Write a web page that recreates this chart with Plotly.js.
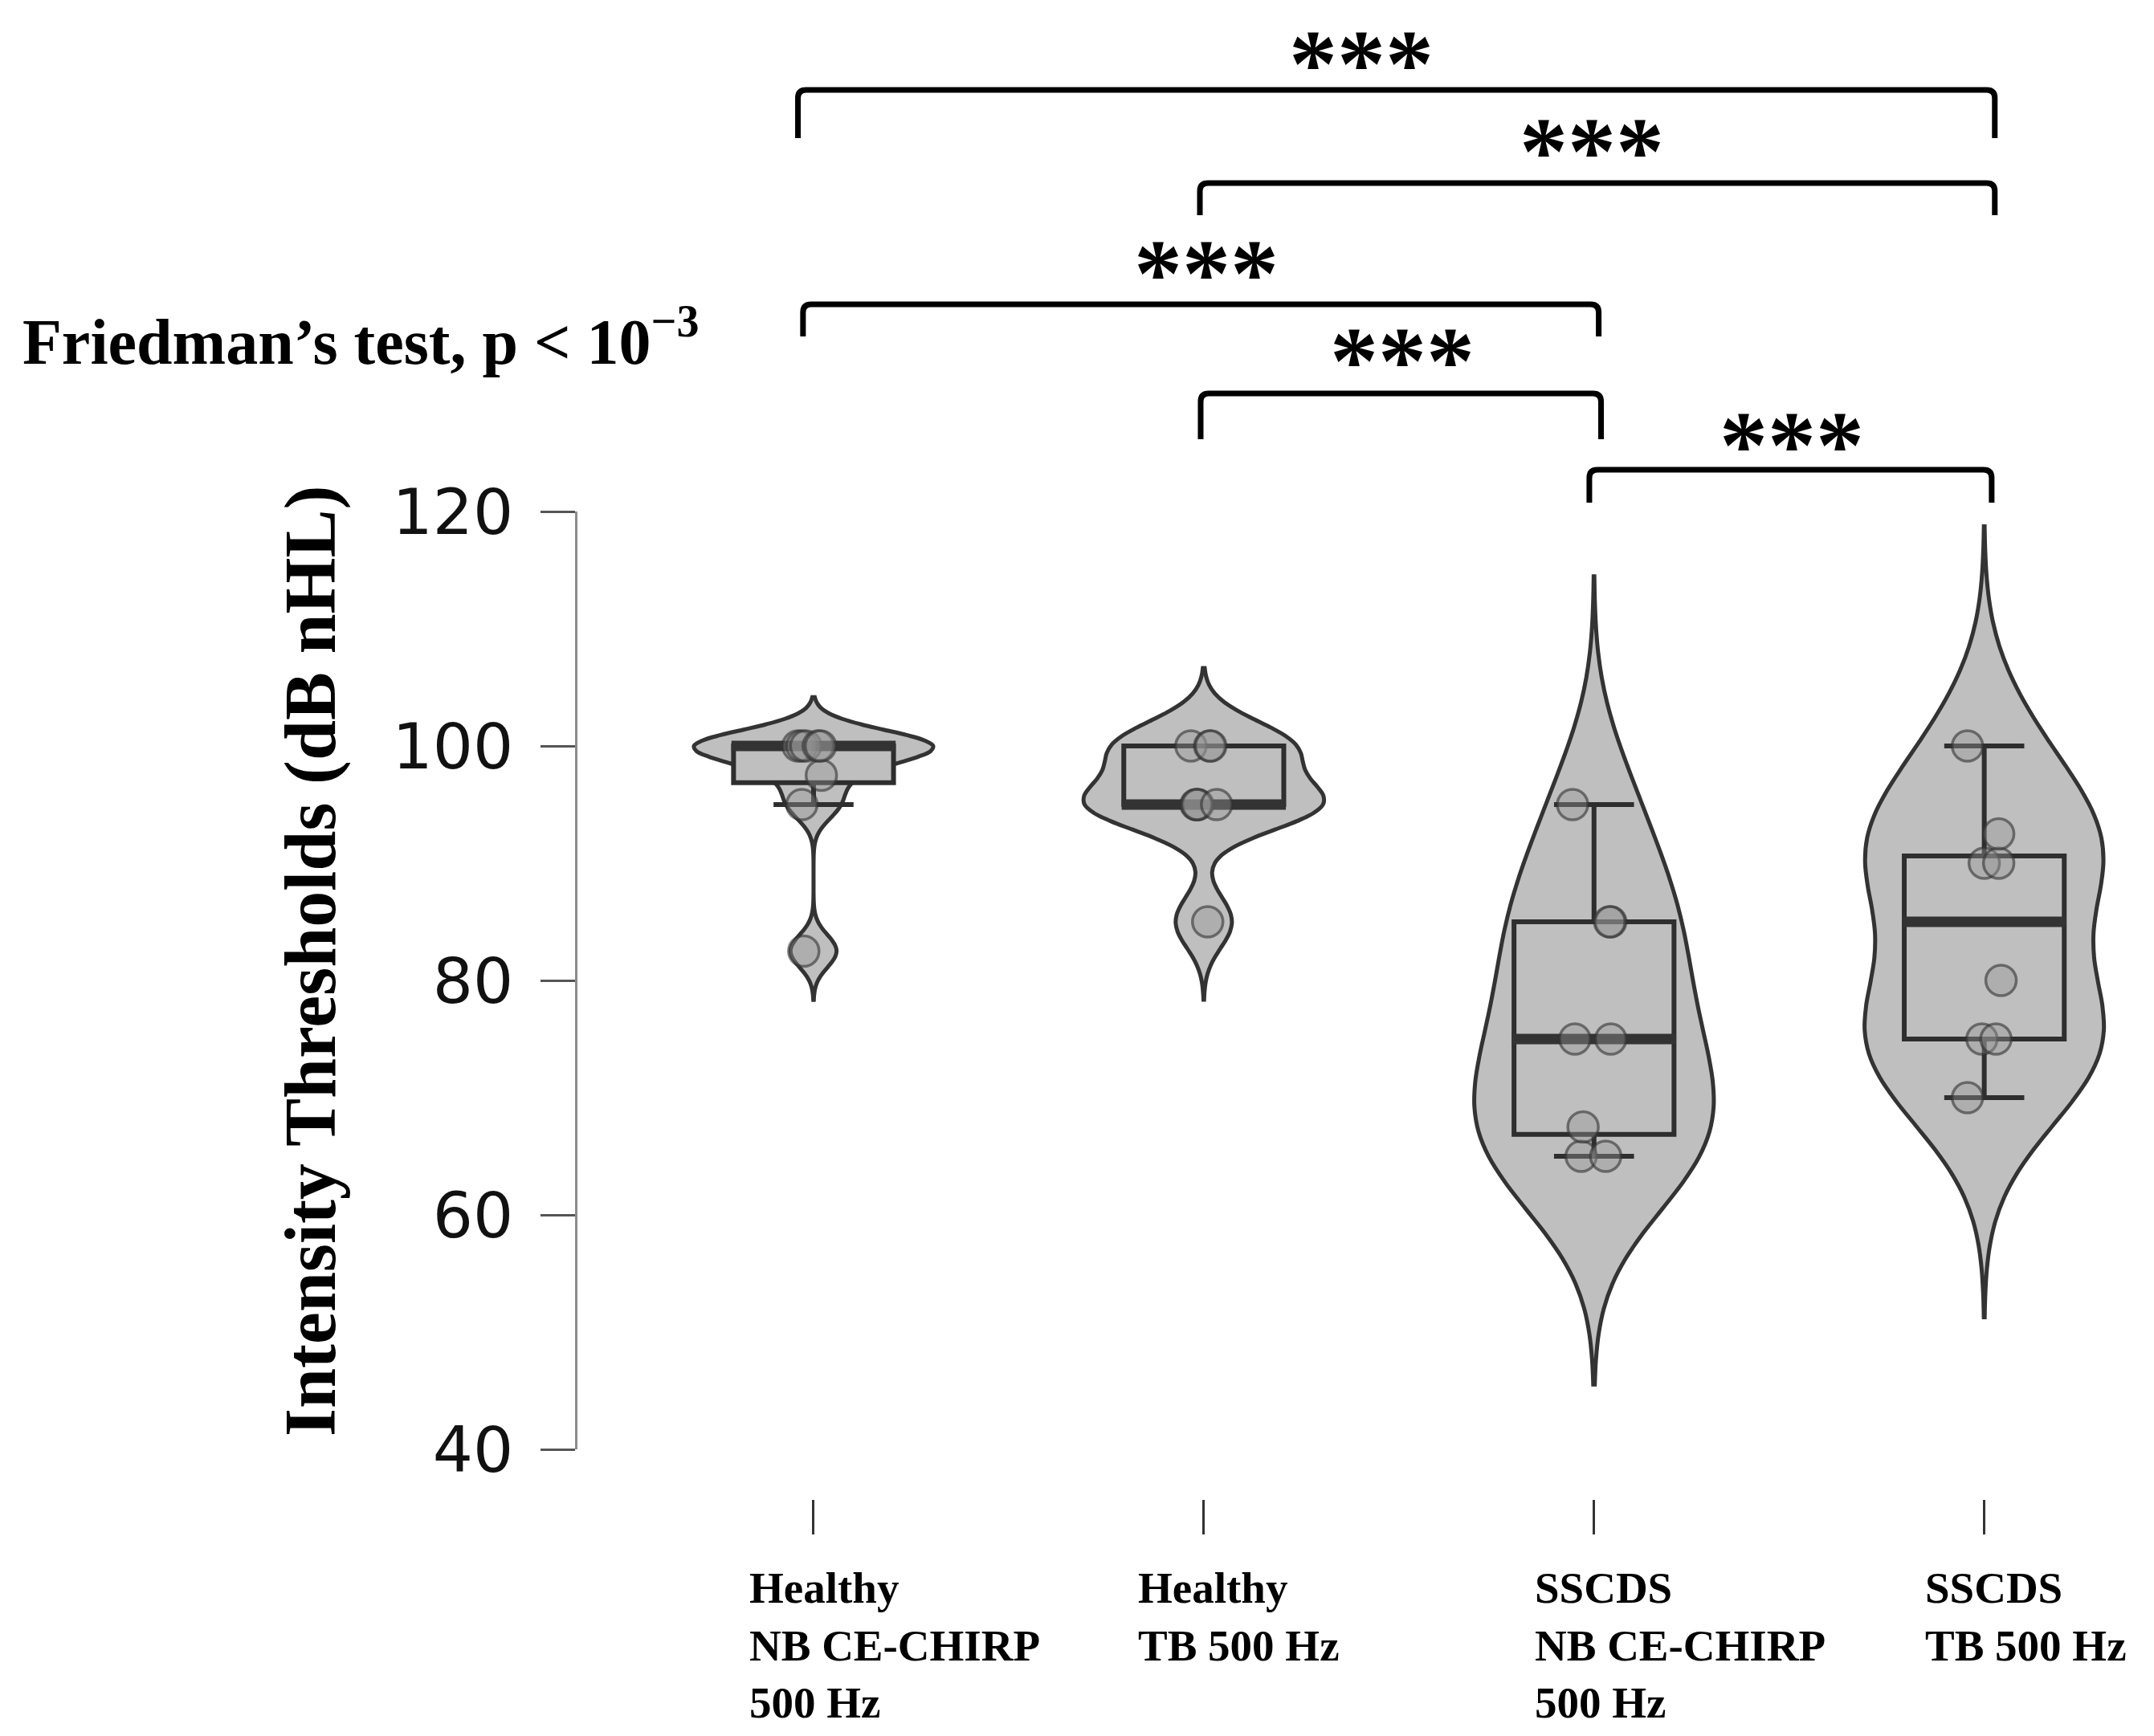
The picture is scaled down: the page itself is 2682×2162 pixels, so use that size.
<!DOCTYPE html>
<html>
<head>
<meta charset="utf-8">
<script src="https://cdn.plot.ly/plotly-3.0.1.min.js"></script>
<style>html,body{margin:0;padding:0;background:#fff}</style>
</head>
<body>
<div id="chart" style="width:2682px;height:2162px"></div>
<script>
// groups, left to right
var groupLabels = [
	'Healthy<br>NB CE-CHIRP<br>500 Hz',
	'Healthy<br>TB 500 Hz',
	'SSCDS<br>NB CE-CHIRP<br>500 Hz',
	'SSCDS<br>TB 500 Hz'
];

// thresholds in dB nHL
var healthyChirp = [82.5, 95, 97.5, 100, 100, 100, 100, 100];
var healthyTB    = [85, 95, 95, 95, 95, 100, 100, 100];
var sscdsChirp   = [65, 65, 67.5, 75, 75, 85, 85, 95];
var sscdsTB      = [70, 75, 75, 80, 90, 90, 92.5, 100];

// horizontal jitter of each point (category units)
var jitterHealthyChirp = [-0.025, -0.03, 0.02, -0.04, -0.03, -0.02, 0.012, 0.018];
var jitterHealthyTB    = [0.01, -0.02, -0.015, -0.018, 0.033, -0.033, 0.015, 0.018];
var jitterSscdsChirp   = [-0.033, 0.03, -0.028, -0.049, 0.043, 0.043, 0.04, -0.055];
var jitterSscdsTB      = [-0.043, -0.006, 0.03, 0.043, 0.0, 0.037, 0.037, -0.043];

var yTicks = [40, 60, 80, 100, 120];
var sigLabel = '***';

var groups = [healthyChirp, healthyTB, sscdsChirp, sscdsTB];
var jitters = [jitterHealthyChirp, jitterHealthyTB, jitterSscdsChirp, jitterSscdsTB];

// page geometry
var W = 2682, H = 2162;
var M = {l: 719, r: 17, t: 637, b: 295};
var plotW = W - M.l - M.r, plotH = H - M.t - M.b;
var xRange = [-0.605, 3.4];

function paperX(c) { return (c - xRange[0]) / (xRange[1] - xRange[0]); }
function paperY(py) { return (H - M.b - py) / plotH; }

// R-style helpers: quantile type 7, sd, bw.nrd0
function quantile(v, p) {
	var s = v.slice().sort(function(a, b) { return a - b; });
	var h = (s.length - 1) * p, lo = Math.floor(h);
	var hi = Math.min(lo + 1, s.length - 1);
	return s[lo] + (h - lo) * (s[hi] - s[lo]);
}
function sd(v) {
	var m = v.reduce(function(a, b) { return a + b; }, 0) / v.length;
	var ss = v.reduce(function(a, b) { return a + (b - m) * (b - m); }, 0);
	return Math.sqrt(ss / (v.length - 1));
}
function nrd0(v) {
	var iqr = quantile(v, 0.75) - quantile(v, 0.25);
	return 0.9 * Math.min(sd(v), iqr / 1.34) * Math.pow(v.length, -0.2);
}
// ggplot-like box stats
function boxStats(v) {
	var q1 = quantile(v, 0.25), q3 = quantile(v, 0.75), iqr = q3 - q1;
	var inside = v.filter(function(x) { return x >= q1 - 1.5 * iqr && x <= q3 + 1.5 * iqr; });
	return {
		q1: q1, med: quantile(v, 0.5), q3: q3,
		lo: Math.min.apply(null, inside), hi: Math.max.apply(null, inside)
	};
}

var data = [];

groups.forEach(function(vals, i) {
	var bw = nrd0(vals);
	data.push({
		type: 'violin', x0: i, y: vals,
		bandwidth: bw, spanmode: 'manual',
		span: [Math.min.apply(null, vals) - 3 * bw, Math.max.apply(null, vals) + 3 * bw],
		width: 0.613, scalemode: 'width', side: 'both',
		points: false, box: {visible: false}, meanline: {visible: false},
		fillcolor: '#bfbfbf', line: {color: '#333333', width: 5},
		hoverinfo: 'skip', showlegend: false
	});
});

var stats = groups.map(boxStats);
data.push({
	type: 'box',
	x: groups.map(function(v, i) { return i; }),
	q1: stats.map(function(s) { return s.q1; }),
	median: stats.map(function(s) { return s.med; }),
	q3: stats.map(function(s) { return s.q3; }),
	lowerfence: stats.map(function(s) { return s.lo; }),
	upperfence: stats.map(function(s) { return s.hi; }),
	width: 0.41, whiskerwidth: 0.5,
	fillcolor: '#bfbfbf', line: {color: '#2e2e2e', width: 6},
	hoverinfo: 'skip', showlegend: false
});

// thick median bars (line-ew length is 1.4 x size)
data.push({
	type: 'scatter', mode: 'markers',
	x: groups.map(function(v, i) { return i; }),
	y: stats.map(function(s) { return s.med; }),
	marker: {symbol: 'line-ew', size: 146, color: '#333333', line: {width: 13, color: '#333333'}},
	hoverinfo: 'skip', showlegend: false
});

// jittered subject points
var px = [], py = [];
groups.forEach(function(vals, i) {
	vals.forEach(function(v, k) { px.push(i + jitters[i][k]); py.push(v); });
});
data.push({
	type: 'scatter', mode: 'markers', x: px, y: py,
	marker: {size: 38, color: 'rgba(150,150,150,0.4)', line: {width: 3.5, color: 'rgba(50,50,50,0.6)'}},
	hoverinfo: 'skip', showlegend: false
});

// significance brackets: legs in category units, bar heights in pixels
var brackets = [
	{a: 0 - 0.04,  b: 3 + 0.027, top: 112, foot: 172, starShift: -44, starY: 62},
	{a: 1 - 0.01,  b: 3 + 0.027, top: 228, foot: 268, starShift: -7,  starY: 171},
	{a: 0 - 0.027, b: 2 + 0.012, top: 379, foot: 419, starShift: 7,   starY: 324},
	{a: 1 - 0.008, b: 2 + 0.018, top: 490, foot: 547, starShift: 2,   starY: 433},
	{a: 2 - 0.012, b: 3 + 0.019, top: 585, foot: 626, starShift: 2,   starY: 537}
];

var shapes = [], annotations = [];
var rx = 10 / plotW, ry = 10 / plotH;
brackets.forEach(function(br) {
	var x1 = paperX(br.a), x2 = paperX(br.b);
	var yt = paperY(br.top), yb = paperY(br.foot);
	shapes.push({
		type: 'path', xref: 'paper', yref: 'paper',
		path: 'M' + x1 + ',' + yb + ' L' + x1 + ',' + (yt - ry) +
			' Q' + x1 + ',' + yt + ' ' + (x1 + rx) + ',' + yt +
			' L' + (x2 - rx) + ',' + yt +
			' Q' + x2 + ',' + yt + ' ' + x2 + ',' + (yt - ry) +
			' L' + x2 + ',' + yb,
		line: {color: '#000', width: 7}
	});
	annotations.push({
		xref: 'paper', yref: 'paper',
		x: (x1 + x2) / 2, xshift: br.starShift,
		y: paperY(br.starY + 17), yanchor: 'middle', xanchor: 'center',
		text: sigLabel, showarrow: false,
		font: {family: 'Liberation Serif', size: 120, weight: 'bold', color: '#000'}
	});
});

var labelShift = [-82, -84, -76, -76];
groupLabels.forEach(function(lab, i) {
	annotations.push({
		xref: 'x', yref: 'paper', x: i, xshift: labelShift[i],
		y: paperY(1945), xanchor: 'left', yanchor: 'top', align: 'left',
		text: lab, showarrow: false,
		font: {family: 'Liberation Serif', size: 55, weight: 'bold', color: '#000'}
	});
});

annotations.push({
	xref: 'paper', yref: 'paper',
	x: (387 - M.l) / plotW, y: paperY(1197),
	xanchor: 'center', yanchor: 'middle', textangle: -90,
	text: 'Intensity Thresholds (dB nHL)', showarrow: false,
	font: {family: 'Liberation Serif', size: 90, weight: 'bold', color: '#000'}
});

annotations.push({
	xref: 'paper', yref: 'paper',
	x: (26 - M.l) / plotW, y: paperY(420),
	xanchor: 'left', yanchor: 'middle',
	text: 'Friedman’s test, p &lt; 10<sup>−3</sup>', showarrow: false,
	font: {family: 'Liberation Serif', size: 80, weight: 'bold', color: '#000'}
});

var layout = {
	width: W, height: H, autosize: false,
	margin: {l: M.l, r: M.r, t: M.t, b: M.b, pad: 0},
	paper_bgcolor: '#fff', plot_bgcolor: '#fff',
	showlegend: false,
	violinmode: 'overlay', boxmode: 'overlay',
	xaxis: {
		type: 'linear', range: xRange, anchor: 'free', position: 0,
		tickvals: [0, 1, 2, 3], showticklabels: false,
		ticks: 'outside', ticklen: 43, tickwidth: 3, tickcolor: '#333',
		showline: false, showgrid: false, zeroline: false, fixedrange: true
	},
	yaxis: {
		domain: [(H - M.b - 1805) / plotH, 1], range: [40, 120],
		tickvals: yTicks, ticks: 'outside', ticklen: 43, tickwidth: 3, tickcolor: '#555',
		ticklabelstandoff: 18,
		showline: true, linecolor: '#8c8c8c', linewidth: 3,
		tickfont: {family: 'DejaVu Sans', size: 79, color: '#111'},
		showgrid: false, zeroline: false, fixedrange: true
	},
	shapes: shapes,
	annotations: annotations
};

Plotly.newPlot('chart', data, layout, {staticPlot: true, displaylogo: false});
</script>
</body>
</html>
